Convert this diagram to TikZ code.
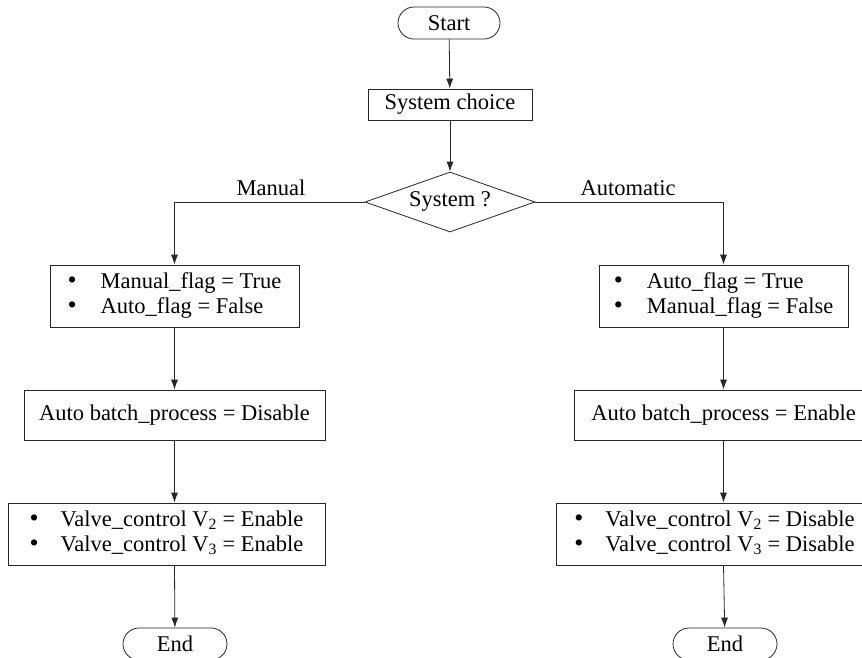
\documentclass[tikz,border=0pt]{standalone}
\usepackage{fontspec}
\setmainfont{Liberation Serif}
\usetikzlibrary{shapes.misc,shapes.geometric,arrows.meta}
\tikzset{
  base/.style={draw=black!85, line width=0.8pt, inner sep=0pt, font=\fontsize{22.5}{25}\selectfont, align=center},
  boxnode/.style={base, rectangle},
  term/.style={base, rounded rectangle, minimum width=104pt, minimum height=32pt},
  decide/.style={base, diamond, shape aspect=2.83, minimum width=170pt, minimum height=60pt},
  conn/.style={line width=0.8pt, draw=black!85, -{Latex[length=10pt,width=7pt]}},
  lbl/.style={font=\fontsize{22.5}{25}\selectfont, inner sep=0pt, anchor=base}
}
\newcommand{\bigbul}{\scalebox{1.15}{\textbullet}}
\newcommand{\blist}[3][24pt]{\begin{tabular}{@{}l@{\hspace{#1}}l@{}}\bigbul & #2\\ \bigbul & #3\end{tabular}}
\begin{document}
\begin{tikzpicture}[x=1pt,y=-1pt]
\useasboundingbox (0,0) rectangle (862,657);
\node[term, minimum width=102pt] (start) at (449,23) {Start};
\node[boxnode, minimum width=164pt, minimum height=31pt] (choice) at (450,104.5) {System choice};
\node[decide] (sys) at (450,202) {\smash{\raisebox{-4pt}{System ?}}};
\node[lbl] (man) at (271,195) {Manual};
\node[lbl] (aut) at (628,195) {Automatic};

\node[boxnode, minimum width=249pt, minimum height=62pt] (lb1) at (174.5,296) {\blist{Manual\_flag = True}{Auto\_flag = False}};
\node[boxnode, minimum width=249pt, minimum height=62pt] (rb1) at (723.5,296) {\blist{Auto\_flag = True}{Manual\_flag = False}};

\node[boxnode, minimum width=301pt, minimum height=50pt] (lb2) at (174.5,415) {Auto batch\_process = Disable};
\node[boxnode, minimum width=299pt, minimum height=50pt] (rb2) at (723.5,415) {Auto batch\_process = Enable};

\node[boxnode, minimum width=317pt, minimum height=62pt] (lb3) at (166.5,534) {\blist[22pt]{Valve\_control V\textsubscript{2} = Enable}{Valve\_control V\textsubscript{3} = Enable}};
\node[boxnode, minimum width=317pt, minimum height=62pt] (rb3) at (714.5,534) {\blist[22pt]{Valve\_control V\textsubscript{2} = Disable}{Valve\_control V\textsubscript{3} = Disable}};

\node[term] (lend) at (175,644) {End};
\node[term] (rend) at (725,644) {End};

\draw[conn] (start) -- (choice);
\draw[conn] (choice) -- (sys);
\draw[conn] (sys.west) -| (lb1.north);
\draw[conn] (sys.east) -| (rb1.north);
\draw[conn] (lb1) -- (lb2);
\draw[conn] (rb1) -- (rb2);
\draw[conn] (lb2.south) -- (lb2.south |- lb3.north);
\draw[conn] (rb2.south) -- (rb2.south |- rb3.north);
\draw[conn] (lb2.south |- lb3.south) -- (lend);
\draw[conn] (rb2.south |- rb3.south) -- (rend);
\end{tikzpicture}
\end{document}
